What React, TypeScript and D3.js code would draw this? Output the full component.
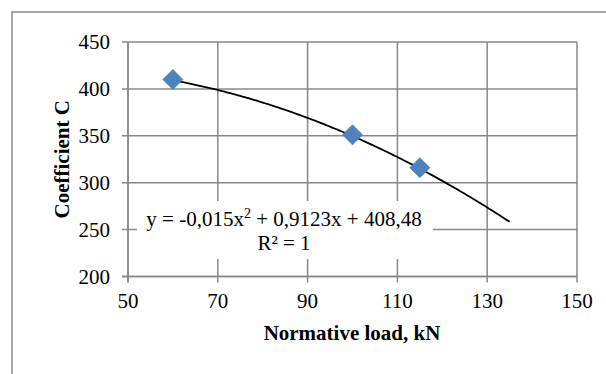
import React from "react";
import * as d3 from "d3";

const loads: number[] = [60, 100, 115];
const coefC: number[] = [410, 351, 316];
const xTicks: number[] = [50, 70, 90, 110, 130, 150];
const yTicks: number[] = [200, 250, 300, 350, 400, 450];
// trendline coefficients as printed on the chart (a, b, c of a*x^2 + b*x + c)
const trendCoefs: number[] = [-0.015, 0.9123, 408.48];
const trendRange: number[] = [60, 135];

const W = 606;
const H = 374;
const FONT = "'Liberation Serif', 'Times New Roman', serif";

export default function App() {
  const x = d3.scaleLinear().domain([50, 150]).range([128, 577]);
  const y = d3.scaleLinear().domain([200, 450]).range([276.5, 42]);

  const [a, b, c] = trendCoefs;
  const trendXs = d3.range(trendRange[0], trendRange[1] + 0.001, 0.5);
  const trendPts: [number, number][] = trendXs.map((v) => [v, a * v * v + b * v + c]);
  const line = d3
    .line<[number, number]>()
    .x((d) => x(d[0]))
    .y((d) => y(d[1]))
    .curve(d3.curveLinear);

  const diamond = d3.symbol().type(d3.symbolSquare).size(200)();
  const grid = "#888888";

  return (
    <svg
      width={W}
      height={H}
      style={{ position: "absolute", left: 0, top: 0, background: "#fff" }}
      fontFamily={FONT}
    >
      <rect x={0} y={0} width={W} height={H} fill="#fff" />
      {/* outer chart border (extends past the picture on the right and bottom) */}
      <rect x={12} y={12} width={620} height={400} fill="none" stroke="#8a8a8a" strokeWidth={1.5} />

      {/* gridlines */}
      {yTicks.map((t) => (
        <line key={"gy" + t} x1={x(50) - 6} x2={x(150)} y1={y(t)} y2={y(t)} stroke={grid} strokeWidth={1.5} />
      ))}
      {xTicks.map((t) => (
        <line key={"gx" + t} x1={x(t)} x2={x(t)} y1={y(450)} y2={y(200) + 6} stroke={grid} strokeWidth={1.5} />
      ))}

      {/* trendline label background */}
      <rect x={137} y={201} width={296} height={58} fill="#fff" />

      {/* axes */}
      <line x1={x(50)} x2={x(50)} y1={y(450)} y2={y(200) + 6} stroke={grid} strokeWidth={1.5} />
      <line x1={x(50) - 6} x2={x(150)} y1={y(200)} y2={y(200)} stroke={grid} strokeWidth={1.5} />

      {/* trendline */}
      <path d={line(trendPts) || ""} fill="none" stroke="#000" strokeWidth={1.8} />

      {/* markers */}
      {loads.map((l, i) => (
        <path
          key={"m" + i}
          d={diamond || ""}
          transform={`translate(${x(l)},${y(coefC[i])}) rotate(45)`}
          fill="#4F81BD"
          stroke="#4A7EBB"
          strokeWidth={0.75}
        />
      ))}

      {/* tick labels */}
      {yTicks.map((t) => (
        <text key={"ly" + t} x={110} y={y(t)} dy="0.34em" textAnchor="end" fontSize={21} fill="#000">
          {t}
        </text>
      ))}
      {xTicks.map((t) => (
        <text key={"lx" + t} x={x(t)} y={308} textAnchor="middle" fontSize={21} fill="#000">
          {t}
        </text>
      ))}

      {/* axis titles */}
      <text x={352} y={340} textAnchor="middle" fontSize={21} fontWeight="bold" fill="#000">
        Normative load, kN
      </text>
      <text
        transform={`translate(69,${(y(450) + y(200)) / 2}) rotate(-90)`}
        textAnchor="middle"
        fontSize={21}
        fontWeight="bold"
        fill="#000"
      >
        Coefficient C
      </text>

      {/* equation */}
      <text x={284} y={226} textAnchor="middle" fontSize={21} fill="#000">
        y = -0,015x
        <tspan fontSize={14} dy={-8}>2</tspan>
        <tspan dy={8}> + 0,9123x + 408,48</tspan>
      </text>
      <text x={284} y={250} textAnchor="middle" fontSize={21} fill="#000">
        R² = 1
      </text>
    </svg>
  );
}
